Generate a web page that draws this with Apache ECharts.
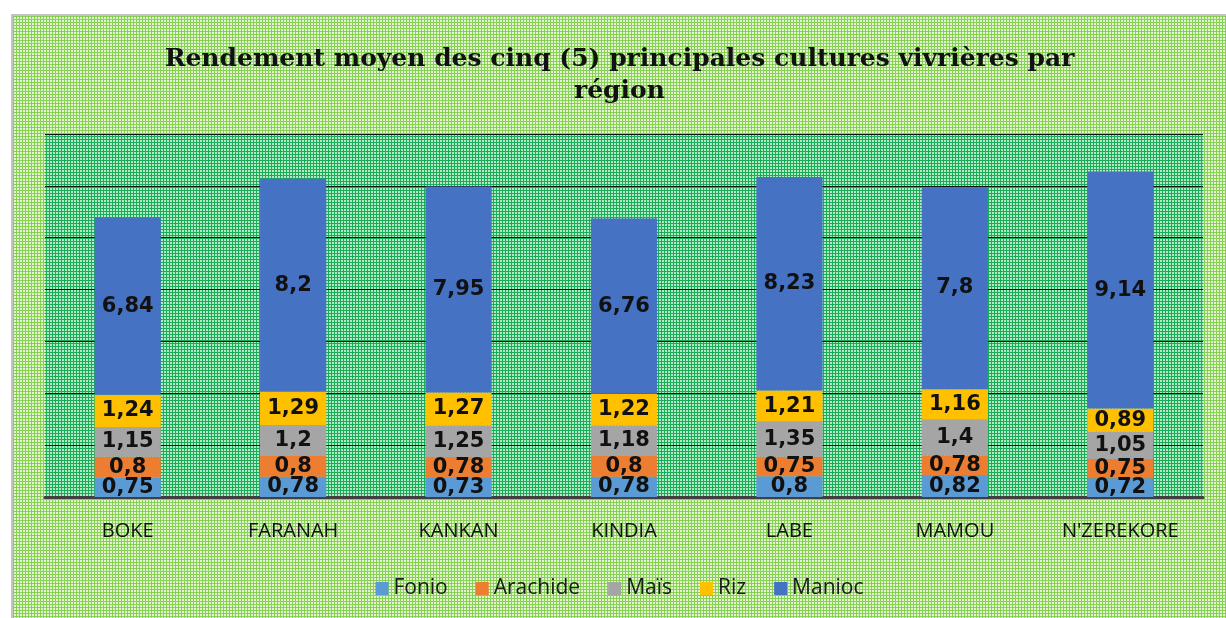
<!DOCTYPE html>
<html lang="fr">
<head>
    <meta charset="utf-8">
    <title>Rendement moyen</title>
    <script src="https://cdn.jsdelivr.net/npm/echarts@6/dist/echarts.min.js"></script>
    <style>
        body { margin: 0; background: #fff; }
        #main { position: absolute; left: 11px; top: 14px; width: 1213px; height: 602px;
                border-left: 2px solid #c4c4c4; border-top: 2px solid #c4c4c4; }
    </style>
</head>
<body>
    <div id="main"></div>
    <script>
    var regions = ['BOKE', 'FARANAH', 'KANKAN', 'KINDIA', 'LABE', 'MAMOU', "N'ZEREKORE"];
    var fonio = [0.75, 0.78, 0.73, 0.78, 0.8, 0.82, 0.72];
    var arachide = [0.8, 0.8, 0.78, 0.8, 0.75, 0.78, 0.75];
    var mais = [1.15, 1.2, 1.25, 1.18, 1.35, 1.4, 1.05];
    var riz = [1.24, 1.29, 1.27, 1.22, 1.21, 1.16, 0.89];
    var manioc = [6.84, 8.2, 7.95, 6.76, 8.23, 7.8, 9.14];

    // dotted texture like the office pattern fill
    function dots(line, square) {
        var c = document.createElement('canvas');
        c.width = 3; c.height = 3;
        var ctx = c.getContext('2d');
        ctx.fillStyle = line;
        ctx.fillRect(0, 0, 3, 3);
        ctx.fillStyle = square;
        ctx.fillRect(1, 1, 2, 2);
        return { image: c, repeat: 'repeat' };
    }

    var myChart = echarts.init(document.getElementById('main'));

    function serie(name, data, color) {
        return {
            name: name,
            type: 'bar',
            stack: 'total',
            barWidth: '40%',
            data: data,
            itemStyle: { color: color },
            label: {
                show: true,
                position: 'inside',
                color: '#111',
                fontFamily: 'DejaVu Sans',
                fontWeight: 'bold',
                fontSize: 21,
                formatter: function (p) { return String(p.value).replace('.', ','); }
            }
        };
    }

    var option = {
        backgroundColor: dots('#86d052', '#e2f4d2'),
        animation: false,
        title: {
            text: 'Rendement moyen des cinq (5) principales cultures vivrières par\nrégion',
            left: 'center',
            top: 22,
            textStyle: {
                fontFamily: 'DejaVu Serif',
                fontWeight: 'bold',
                fontSize: 25,
                lineHeight: 32,
                color: '#111'
            }
        },
        legend: {
            top: 557,
            left: 'center',
            itemWidth: 13,
            itemHeight: 13,
            itemGap: 28,
            icon: 'rect',
            textStyle: { fontFamily: 'Open Sans', fontSize: 21, color: '#1a1a1a' },
            data: ['Fonio', 'Arachide', 'Maïs', 'Riz', 'Manioc']
        },
        grid: {
            left: 32, top: 118, width: 1158, height: 363,
            show: true,
            borderWidth: 0,
            backgroundColor: dots('#18ad56', '#b4e8c6')
        },
        xAxis: {
            type: 'category',
            data: regions,
            axisTick: { show: false },
            axisLine: { lineStyle: { color: '#404040', width: 3 } },
            axisLabel: { interval: 0, margin: 24, fontFamily: 'Open Sans', fontSize: 20, color: '#111' }
        },
        yAxis: {
            type: 'value',
            min: 0, max: 14, interval: 2,
            axisLabel: { show: false },
            axisLine: { show: false },
            axisTick: { show: false },
            splitLine: { lineStyle: { color: '#111', width: 1 } }
        },
        series: [
            serie('Fonio', fonio, '#5b9bd5'),
            serie('Arachide', arachide, '#ed7d31'),
            serie('Maïs', mais, '#a5a5a5'),
            serie('Riz', riz, '#ffc000'),
            serie('Manioc', manioc, '#4672c4')
        ]
    };
    myChart.setOption(option);
    </script>
</body>
</html>
